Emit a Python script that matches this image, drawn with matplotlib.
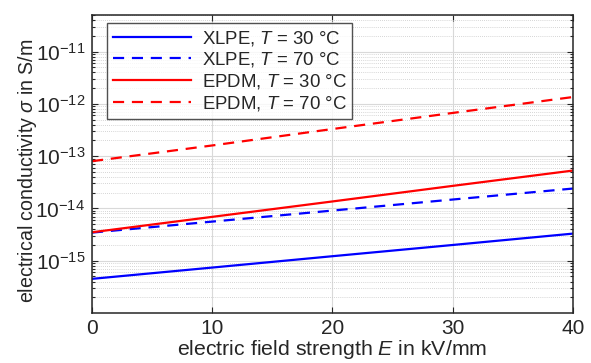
import math
import matplotlib
matplotlib.use("Agg")
import matplotlib.pyplot as plt
from matplotlib.ticker import LogLocator, FixedLocator, FuncFormatter, NullFormatter

plt.rcParams['font.family'] = ['Liberation Sans', 'DejaVu Sans']
plt.rcParams['mathtext.fontset'] = 'custom'
plt.rcParams['mathtext.rm'] = 'Liberation Sans'
plt.rcParams['mathtext.it'] = 'Liberation Sans:italic'
plt.rcParams['mathtext.bf'] = 'Liberation Sans:bold'

# Data
E = [0, 10, 20, 30, 40]
xlpe_30 = [4.5e-16, 7.4e-16, 1.22e-15, 2.0e-15, 3.3e-15]
xlpe_70 = [3.45e-15, 5.6e-15, 9.1e-15, 1.48e-14, 2.4e-14]
epdm_30 = [3.5e-15, 6.9e-15, 1.36e-14, 2.7e-14, 5.3e-14]
epdm_70 = [8.0e-14, 1.6e-13, 3.3e-13, 6.7e-13, 1.35e-12]
labels = ["XLPE, $T$ = 30 °C", "XLPE, $T$ = 70 °C",
          "EPDM, $T$ = 30 °C", "EPDM, $T$ = 70 °C"]
x_ticks = [0, 10, 20, 30, 40]
y_ticks = [1e-15, 1e-14, 1e-13, 1e-12, 1e-11]

txt = '#262626'
fig = plt.figure(figsize=(5.91, 3.63), dpi=100)
ax = fig.add_axes([0.1557, 0.1377, 0.9695 - 0.1557, 0.9587 - 0.1377])

lw = 1.6
ax.plot(E, xlpe_30, color='#0000ff', lw=lw, label=labels[0])
ax.plot(E, xlpe_70, color='#0000ff', lw=lw, ls=(0, (5, 3.5)), label=labels[1])
ax.plot(E, epdm_30, color='#ff0000', lw=lw, label=labels[2])
ax.plot(E, epdm_70, color='#ff0000', lw=lw, ls=(0, (5, 3.5)), label=labels[3])

ax.set_yscale('log')
ax.set_xlim(0, 40)
ax.set_ylim(1e-16, 5e-11)
ax.xaxis.set_major_locator(FixedLocator(x_ticks))
ax.yaxis.set_major_locator(FixedLocator(y_ticks))
ax.yaxis.set_major_formatter(FuncFormatter(lambda v, p: "$10^{%d}$" % round(math.log10(v))))
ax.yaxis.set_minor_locator(LogLocator(base=10, subs=range(2, 10), numticks=20))
ax.yaxis.set_minor_formatter(NullFormatter())

ax.grid(True, which='major', color='#d9d9d9', lw=0.8, ls='-')
ax.grid(True, which='minor', axis='y', color='#c8c8c8', lw=0.6, ls=(0, (1, 1.5)))
ax.set_axisbelow(True)

for s in ax.spines.values():
    s.set_color('#262626')
    s.set_linewidth(1.1)
ax.tick_params(which='both', direction='in', top=True, right=True, colors=txt,
               labelsize=15, width=0.8)
ax.tick_params(which='major', length=4)
ax.tick_params(which='minor', length=2.5)
ax.tick_params(axis='x', pad=4.5)
ax.tick_params(axis='y', pad=5)

ax.set_xlabel("electric field strength $E$ in kV/mm", fontsize=15.3, color=txt, labelpad=0)
ax.set_ylabel("electrical conductivity $\\sigma$ in S/m", fontsize=14.1, color=txt, labelpad=-3)
ax.yaxis.label.set_y(0.477)

leg = ax.legend(loc='upper left', bbox_to_anchor=(0.031, 0.973), borderaxespad=0,
                fontsize=13.4, handlelength=4.2, frameon=True, fancybox=False,
                labelspacing=0.15, borderpad=0.3, handletextpad=0.6)
leg.get_frame().set_edgecolor('#262626')
leg.get_frame().set_linewidth(1.0)
for t in leg.get_texts():
    t.set_color(txt)

fig.savefig("out.png", dpi=100)
